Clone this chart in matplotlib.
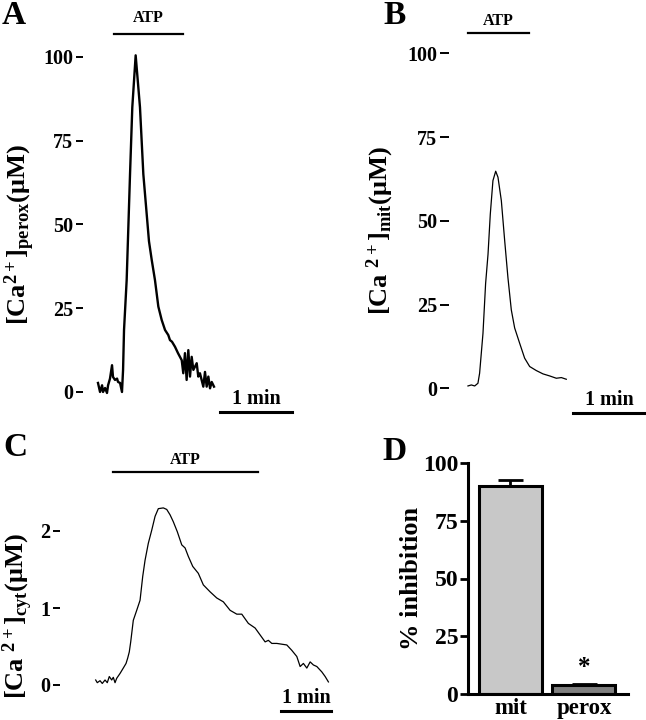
import matplotlib
matplotlib.use('Agg')
import matplotlib.pyplot as plt

plt.rcParams['font.family'] = ['Liberation Serif', 'DejaVu Serif']
plt.rcParams['font.weight'] = 'bold'
plt.rcParams['axes.labelweight'] = 'bold'
plt.rcParams['mathtext.fontset'] = 'custom'
plt.rcParams['mathtext.rm'] = 'Liberation Serif:bold'
plt.rcParams['mathtext.it'] = 'Liberation Serif:bold'
plt.rcParams['mathtext.bf'] = 'Liberation Serif:bold'

# --- data (time in s, concentration in uM) ---
t_perox = [0.8, 2.5, 4.2, 5.0, 6.7, 8.3, 9.2, 10.8, 12.5, 13.3, 15.0, 16.7, 17.5,
           19.2, 20.8, 21.7, 22.5, 24.7, 27.5, 29.4, 32.2, 35.8, 38.6, 43.3, 45.6,
           48.3, 51.1, 53.9, 56.7, 59.4, 60.8, 62.5, 65.0, 67.5, 70.6, 71.9, 73.3,
           74.7, 76.1, 77.5, 78.9, 80.3, 83.1, 84.4, 85.8, 88.6, 90.0, 91.4, 92.8,
           94.2, 95.6, 97.5]
ca_perox = [2.7, 0, 2, 0, 1.2, -0.3, 2, 4, 8, 4.5, 3.6, 4, 3, 2.7, 0, 6.6, 18.5,
            33.4, 65, 85, 100.5, 85, 65, 45, 39.4, 33.4, 25.5, 21.5, 18.5, 17, 15.5,
            15, 13.5, 11.6, 9.5, 5.6, 11.6, 3.6, 12.5, 4.6, 10.5, 6.6, 8.6, 4.6, 5.6,
            1.6, 6, 1.6, 4.6, 1.1, 3, 1.6]

t_mit = [0, 2.8, 5.6, 8.3, 9.7, 12.5, 14.7, 16.7, 18.6, 20.8, 23.1, 25.0, 27.8,
         30.6, 33.3, 36.1, 38.9, 43.1, 47.2, 51.4, 56.9, 62.5, 68.0, 73.6, 77.8, 81.9]
ca_mit = [0.7, 1.0, 0.7, 1.5, 4.5, 16.4, 31.3, 40, 52, 62, 64.8, 63, 56, 44, 33,
          23.4, 18, 13.4, 9, 6.5, 5.3, 4.3, 3.7, 3.0, 3.2, 2.7]

t_cyt = [0, 1.9, 5.2, 7.9, 11.2, 13.9, 16.3, 19.2, 21.1, 23.2, 25.2, 29.2, 33.1,
         36.4, 38.4, 40.3, 42.0, 45.1, 49.2, 53.2, 56.4, 59.2, 63.1, 67.2, 71.2,
         75.1, 81.1, 85.2, 89.2, 93.1, 97.9, 103.2, 107.2, 111.1, 116.4, 123.1,
         129.1, 137.2, 145.2, 153.1, 161.2, 169.2, 175.2, 183.1, 191.2, 197.2,
         203.2, 207.1, 211.2, 217.2, 229.2, 235.2, 241.2, 245.2, 249.1, 253.2,
         257.2, 261.1, 265.2, 271.2, 275.2, 279.1]
ca_cyt = [0.065, 0.03, 0.056, 0.02, 0.065, 0.03, 0.11, 0.065, 0.10, 0.03, 0.087,
          0.15, 0.22, 0.28, 0.35, 0.43, 0.56, 0.84, 0.97, 1.10, 1.41, 1.62, 1.84,
          2.01, 2.19, 2.29, 2.30, 2.28, 2.21, 2.12, 1.99, 1.82, 1.78, 1.67, 1.54,
          1.45, 1.30, 1.21, 1.13, 1.08, 0.97, 0.92, 0.92, 0.80, 0.74, 0.65, 0.56,
          0.58, 0.54, 0.54, 0.52, 0.45, 0.37, 0.24, 0.28, 0.22, 0.30, 0.26, 0.24,
          0.17, 0.11, 0.04]

atp_perox = [14.2, 71.7]
atp_mit = [0.0, 50.8]
atp_cyt = [20.8, 194.8]

groups = ['mit', 'perox']
inhibition = [90, 3.9]
inhibition_err = [2.5, 0.6]

W, H = 646, 720
fig = plt.figure(figsize=(W / 100, H / 100), dpi=100)


def px_axes(x0, x1, y_top, y_bot):
    return fig.add_axes([x0 / W, 1 - y_bot / H, (x1 - x0) / W, (y_bot - y_top) / H])


def trace_panel(ax, t, y, lw, xlim, ylim, ticks, tlen, atp, atp_y, bar_x, bar_y, label, lab_xy):
    ax.plot(t, y, color='black', lw=lw, clip_on=False)
    ax.set_xlim(*xlim)
    ax.set_ylim(*ylim)
    for s in ax.spines.values():
        s.set_visible(False)
    ax.set_xticks([])
    ax.set_yticks(ticks)
    ax.tick_params(axis='y', length=tlen, width=1.4, pad=2, labelsize=14.5)
    ax.plot(atp, [atp_y[0], atp_y[0]], color='black', lw=1.6, clip_on=False)
    ax.text(sum(atp) / 2, atp_y[1], 'ATP', ha='center', va='center', fontsize=11.5)
    ax.plot(bar_x, [bar_y[0], bar_y[0]], color='black', lw=2.2, clip_on=False)
    ax.text(sum(bar_x) / 2, bar_y[1], '1 min', ha='center', va='bottom', fontsize=14.5)
    ax.set_ylabel(label, fontsize=19)
    ax.yaxis.set_label_coords(*lab_xy)


axA = px_axes(83, 300, 57, 392)
trace_panel(axA, t_perox, ca_perox, 1.7, (-11.7, 169.2), (0, 100), [0, 25, 50, 75, 100], 5,
            atp_perox, (106.9, 111.5), [102.5, 162.5], (-6.0, -5.0),
            r'[Ca$^{2+}$]$_{\rm perox}$(μM)', (-0.21, 0.47))

axB = px_axes(449, 646, 53.3, 388.3)
trace_panel(axB, t_mit, ca_mit, 0.9, (-15.8, 148.3), (0, 100), [0, 25, 50, 75, 100], 6.5,
            atp_mit, (106.0, 109.5), [87.5, 147.5], (-7.4, -6.4),
            r'[Ca $^{2+}$]$_{\rm mit}$(μM)', (-0.27, 0.47))

axC = px_axes(60, 335, 531, 685)
trace_panel(axC, t_cyt, ca_cyt, 0.9, (-42.8, 287), (0, 2), [0, 1, 2], 5,
            atp_cyt, (2.77, 2.92), [222.5, 282.5], (-0.34, -0.30),
            r'[Ca $^{2+}$]$_{\rm cyt}$(μM)', (-0.09, 0.45))

axD = px_axes(468, 628, 463, 694)
xpos = [0, 1]
axD.bar(xpos, inhibition, width=0.857, color=['#c8c8c8', '#7f7f7f'],
        edgecolor='black', linewidth=2.2, zorder=2)
axD.errorbar(xpos, inhibition, yerr=[[0, 0], inhibition_err], fmt='none',
             ecolor='black', elinewidth=2, capsize=9, capthick=2, zorder=1)
axD.text(1, inhibition[1] + 2.5, '*', ha='center', va='bottom', fontsize=18)
axD.set_xlim(-0.578, 1.599)
axD.set_ylim(0, 100)
axD.set_yticks([0, 25, 50, 75, 100])
axD.set_xticks(xpos)
axD.set_xticklabels(groups)
axD.spines['top'].set_visible(False)
axD.spines['right'].set_visible(False)
axD.spines['left'].set_linewidth(2.2)
axD.spines['bottom'].set_linewidth(2.2)
axD.tick_params(axis='y', length=6, width=2, pad=1, labelsize=17)
axD.tick_params(axis='x', length=0, pad=3, labelsize=16.5)
axD.set_ylabel('% inhibition', fontsize=19)
axD.yaxis.set_label_coords(-0.28, 0.5)

for letter, (x, y) in zip('ABCD', [(14, 15), (395, 15), (15, 447), (395, 452)]):
    fig.text(x / W, 1 - y / H, letter, ha='center', va='center', fontsize=24)

fig.savefig('out.png', dpi=100)
